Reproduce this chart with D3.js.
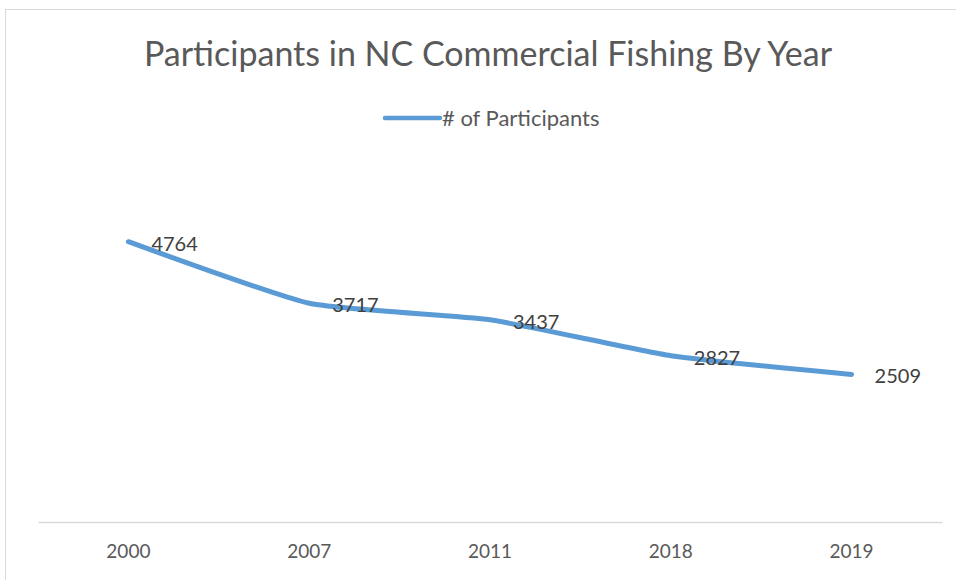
<!DOCTYPE html>
<html>
<head>
<meta charset="utf-8">
<script src="https://cdn.jsdelivr.net/npm/d3@7"></script>
<style>
  body { margin: 0; background: #fff; }
  svg { display: block; font-family: Lato, "Open Sans", sans-serif; }
</style>
</head>
<body>
<svg id="chart" width="956" height="580"></svg>
<script>
// the values
var years = ["2000", "2007", "2011", "2018", "2019"];
var participants = [4764, 3717, 3437, 2827, 2509];
var yTicks = [0, 6000]; // y axis is hidden, only its range matters

var svg = d3.select("#chart");
var W = 956, H = 580;

// chart frame, clipped by the window on the right and bottom
svg.append("rect")
    .attr("x", 5.5).attr("y", 9.5)
    .attr("width", W + 20).attr("height", H + 20)
    .attr("fill", "#fff")
    .attr("stroke", "#d9d9d9");

var plot = {left: 38, right: 942, top: 169, bottom: 522};

var x = d3.scaleBand()
    .domain(years)
    .range([plot.left, plot.right]);

var y = d3.scaleLinear()
    .domain(d3.extent(yTicks))
    .range([plot.bottom, plot.top]);

// title
svg.append("text")
    .attr("x", 488).attr("y", 66)
    .attr("text-anchor", "middle")
    .attr("font-size", 34)
    .attr("fill", "#595959")
    .text("Participants in NC Commercial Fishing By Year");

// legend
var legend = svg.append("g").attr("transform", "translate(385,118)");
legend.append("line")
    .attr("x1", 0).attr("x2", 55)
    .attr("stroke", "#5b9bd5")
    .attr("stroke-width", 4.5)
    .attr("stroke-linecap", "round");
legend.append("text")
    .attr("x", 57).attr("dy", "0.35em")
    .attr("font-size", 22)
    .attr("fill", "#595959")
    .text("# of Participants");

// x axis
var xAxis = d3.axisBottom(x).tickSize(0).tickPadding(23);
var gx = svg.append("g")
    .attr("transform", "translate(0," + plot.bottom + ")")
    .call(xAxis);
gx.select(".domain").attr("stroke", "#d9d9d9").attr("stroke-width", 1.5);
gx.selectAll("text")
    .attr("font-size", 19)
    .attr("font-family", "Lato, 'Open Sans', sans-serif")
    .attr("fill", "#595959");

var rows = years.map(function(yr, i) { return {year: yr, value: participants[i]}; });
var cx = function(d) { return x(d.year) + x.bandwidth() / 2; };

// the line, smoothed like the spreadsheet one
var line = d3.line()
    .x(cx)
    .y(function(d) { return y(d.value); })
    .curve(d3.curveCardinal.tension(0.5));

svg.append("path")
    .datum(rows)
    .attr("d", line)
    .attr("fill", "none")
    .attr("stroke", "#5b9bd5")
    .attr("stroke-width", 5)
    .attr("stroke-linecap", "round")
    .attr("stroke-linejoin", "round");

// data labels
svg.selectAll(".lbl")
    .data(rows)
    .enter().append("text")
    .attr("class", "lbl")
    .attr("x", function(d) { return cx(d) + 23; })
    .attr("y", function(d) { return y(d.value) + 2; })
    .attr("dy", "0.35em")
    .attr("font-size", 20)
    .attr("fill", "#404040")
    .text(function(d) { return d.value; });
</script>
</body>
</html>
